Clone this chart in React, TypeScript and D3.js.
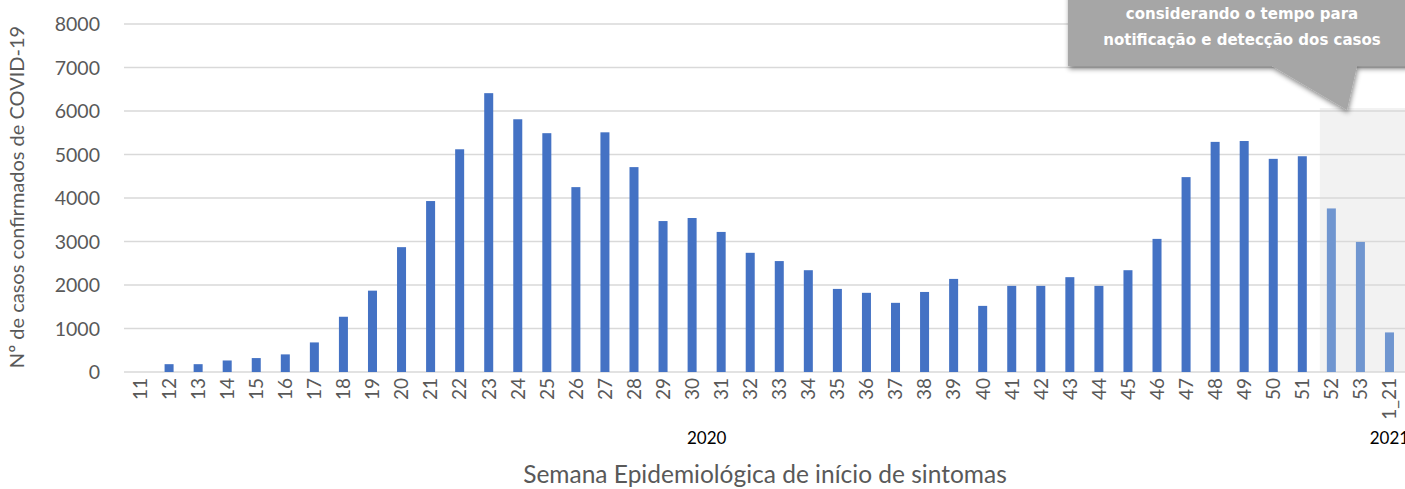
import React from 'react';
import * as d3 from 'd3';

const weeks = [
  '11', '12', '13', '14', '15', '16', '17', '18', '19', '20', '21', '22', '23', '24', '25',
  '26', '27', '28', '29', '30', '31', '32', '33', '34', '35', '36', '37', '38', '39', '40',
  '41', '42', '43', '44', '45', '46', '47', '48', '49', '50', '51', '52', '53', '1_21',
];
const cases = [
  0, 180, 180, 265, 320, 405, 680, 1270, 1870, 2870, 3930, 5120, 6410, 5810, 5490,
  4250, 5510, 4710, 3470, 3540, 3220, 2740, 2550, 2340, 1910, 1820, 1590, 1840, 2140, 1520,
  1980, 1980, 2180, 1980, 2340, 3060, 4480, 5290, 5310, 4900, 4960, 3760, 2990, 910,
];
// weeks still subject to notification delay
const provisional = ['52', '53', '1_21'];
const yTicks = [0, 1000, 2000, 3000, 4000, 5000, 6000, 7000, 8000];
const calloutLines = ['considerando o tempo para', 'notificação e detecção dos casos'];

const W = 1405;
const H = 489;
const font = 'Lato, "Open Sans", sans-serif';

const App = () => {
  const x = d3
    .scaleBand<string>()
    .domain(weeks)
    .range([125.5, 1404])
    .paddingInner(0.69)
    .paddingOuter(0.345);
  const y = d3.scaleLinear().domain([0, 8000]).range([372, 24]);
  const step = x.step();
  const cx = (w: string) => (x(w) as number) + x.bandwidth() / 2;

  const shadeX = cx('51') + step / 2 + 3;

  return (
    <svg
      width={W}
      height={H}
      style={{ position: 'absolute', left: 0, top: 0 }}
    >
      <defs>
        <filter id="shadow" x="-10%" y="-20%" width="130%" height="160%">
          <feDropShadow dx="1" dy="3" stdDeviation="2.5" floodColor="#000" floodOpacity="0.45" />
        </filter>
      </defs>
      <rect width={W} height={H} fill="#fff" />

      {/* provisional period shading */}
      <rect x={shadeX} y={y(6070)} width={W - shadeX} height={y(0) - y(6070)} fill="#f2f2f2" />

      {/* gridlines */}
      {yTicks.map((t) => (
        <line
          key={t}
          x1={124}
          x2={W}
          y1={y(t)}
          y2={y(t)}
          stroke="#d9d9d9"
          strokeWidth={1.3}
        />
      ))}

      {/* y tick labels */}
      {yTicks.map((t) => (
        <text
          key={t}
          x={100}
          y={y(t)}
          dy="0.36em"
          textAnchor="end"
          fontFamily={font}
          fontSize={19.5}
          fill="#595959"
        >
          {t}
        </text>
      ))}

      {/* bars */}
      {weeks.map((w, i) => (
        <rect
          key={w}
          x={x(w)}
          y={y(cases[i])}
          width={x.bandwidth()}
          height={y(0) - y(cases[i])}
          fill={provisional.includes(w) ? '#7096d0' : '#4472c4'}
        />
      ))}

      {/* x tick labels */}
      {weeks.map((w) => (
        <text
          key={w}
          transform={`translate(${cx(w)}, 378) rotate(-90)`}
          textAnchor="end"
          dy="0.36em"
          fontFamily={font}
          fontSize={19}
          fill="#595959"
        >
          {w}
        </text>
      ))}

      {/* year groups */}
      <text
        x={cx('30') + step * 0.5}
        y={444}
        textAnchor="middle"
        fontFamily={font}
        fontSize={17}
        fill="#000"
      >
        2020
      </text>
      <text x={cx('1_21')} y={444} textAnchor="middle" fontFamily={font} fontSize={17} fill="#000">
        2021
      </text>

      {/* axis titles */}
      <text
        x={765}
        y={483}
        textAnchor="middle"
        fontFamily={font}
        fontSize={24.5}
        fill="#595959"
      >
        Semana Epidemiológica de início de sintomas
      </text>
      <text
        transform="translate(24, 197) rotate(-90)"
        textAnchor="middle"
        fontFamily={font}
        fontSize={20}
        fill="#595959"
      >
        Nº de casos confirmados  de COVID-19
      </text>

      {/* callout */}
      <path
        d={`M1068,-20 L1412,-20 L1412,66 L1357,66 L1347,110 L1272,66 L1068,66 Z`}
        fill="#a6a6a6"
        filter="url(#shadow)"
      />
      {calloutLines.map((l, i) => (
        <text
          key={l}
          x={1242}
          y={19 + i * 26}
          textAnchor="middle"
          fontFamily="'DejaVu Sans', Verdana, sans-serif"
          fontWeight="bold"
          fontSize={15}
          fill="#fff"
        >
          {l}
        </text>
      ))}
    </svg>
  );
};

export default App;
